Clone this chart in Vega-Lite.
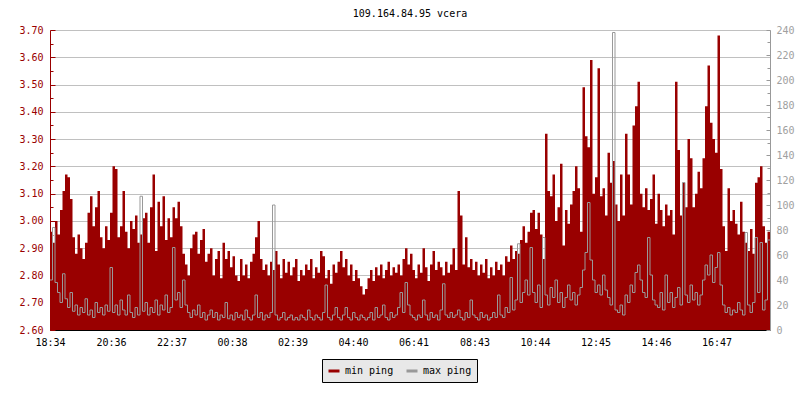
{
  "$schema": "https://vega.github.io/schema/vega-lite/v6.json",
  "width": 720,
  "height": 300,
  "autosize": {"type": "none"},
  "padding": {"left": 50, "top": 30, "right": 30, "bottom": 70},
  "background": "white",
  "title": {"text": "109.164.84.95 vcera", "font": "DejaVu Sans Mono", "fontSize": 10, "fontWeight": "normal", "color": "black", "anchor": "middle", "baseline": "alphabetic", "offset": -2},
  "config": {
    "view": {"stroke": null},
    "axis": {"labelFont": "DejaVu Sans Mono", "labelFontSize": 10, "title": null}
  },
  "data": {"values": [
{"t":0,"mn":2.96,"mx":40},{"t":5,"mn":2.92,"mx":82},{"t":10,"mn":3.00,"mx":38},{"t":15,"mn":2.95,"mx":30},{"t":20,"mn":3.04,"mx":22},{"t":25,"mn":3.11,"mx":45},{"t":30,"mn":3.17,"mx":25},{"t":35,"mn":3.16,"mx":18},{"t":40,"mn":3.08,"mx":30},{"t":45,"mn":2.94,"mx":15},
{"t":50,"mn":2.88,"mx":20},{"t":55,"mn":2.95,"mx":12},{"t":60,"mn":2.90,"mx":18},{"t":65,"mn":2.86,"mx":14},{"t":70,"mn":2.92,"mx":25},{"t":75,"mn":3.03,"mx":12},{"t":80,"mn":3.09,"mx":16},{"t":85,"mn":2.98,"mx":10},{"t":90,"mn":3.05,"mx":22},{"t":95,"mn":3.11,"mx":14},
{"t":100,"mn":2.94,"mx":18},{"t":105,"mn":2.90,"mx":12},{"t":110,"mn":2.98,"mx":20},{"t":115,"mn":2.93,"mx":15},{"t":120,"mn":3.03,"mx":50},{"t":125,"mn":3.20,"mx":14},{"t":130,"mn":3.19,"mx":20},{"t":135,"mn":2.94,"mx":12},{"t":140,"mn":2.98,"mx":24},{"t":145,"mn":3.11,"mx":16},
{"t":150,"mn":2.96,"mx":12},{"t":155,"mn":2.90,"mx":28},{"t":160,"mn":3.00,"mx":14},{"t":165,"mn":2.97,"mx":10},{"t":170,"mn":3.02,"mx":18},{"t":175,"mn":2.92,"mx":12},{"t":180,"mn":2.95,"mx":107},{"t":185,"mn":3.01,"mx":15},{"t":190,"mn":3.03,"mx":22},{"t":195,"mn":2.92,"mx":12},
{"t":200,"mn":3.05,"mx":18},{"t":205,"mn":3.17,"mx":14},{"t":210,"mn":2.89,"mx":24},{"t":215,"mn":3.07,"mx":12},{"t":220,"mn":2.98,"mx":20},{"t":225,"mn":3.09,"mx":16},{"t":230,"mn":2.93,"mx":28},{"t":235,"mn":3.01,"mx":14},{"t":240,"mn":2.94,"mx":18},{"t":245,"mn":3.05,"mx":66},
{"t":250,"mn":3.01,"mx":24},{"t":255,"mn":3.07,"mx":30},{"t":260,"mn":2.98,"mx":18},{"t":265,"mn":2.88,"mx":40},{"t":270,"mn":2.84,"mx":20},{"t":275,"mn":2.80,"mx":14},{"t":280,"mn":2.90,"mx":10},{"t":285,"mn":2.95,"mx":16},{"t":290,"mn":2.96,"mx":12},{"t":295,"mn":2.88,"mx":20},
{"t":300,"mn":2.93,"mx":10},{"t":305,"mn":2.97,"mx":14},{"t":310,"mn":2.85,"mx":8},{"t":315,"mn":2.88,"mx":12},{"t":320,"mn":2.90,"mx":16},{"t":325,"mn":2.80,"mx":10},{"t":330,"mn":2.86,"mx":14},{"t":335,"mn":2.89,"mx":8},{"t":340,"mn":2.79,"mx":12},{"t":345,"mn":2.92,"mx":10},
{"t":350,"mn":2.86,"mx":22},{"t":355,"mn":2.89,"mx":9},{"t":360,"mn":2.83,"mx":12},{"t":365,"mn":2.87,"mx":8},{"t":370,"mn":2.80,"mx":14},{"t":375,"mn":2.78,"mx":10},{"t":380,"mn":2.86,"mx":12},{"t":385,"mn":2.80,"mx":8},{"t":390,"mn":2.84,"mx":16},{"t":395,"mn":2.79,"mx":10},
{"t":400,"mn":2.85,"mx":8},{"t":405,"mn":2.88,"mx":12},{"t":410,"mn":2.94,"mx":28},{"t":415,"mn":3.00,"mx":10},{"t":420,"mn":2.86,"mx":14},{"t":425,"mn":2.82,"mx":8},{"t":430,"mn":2.84,"mx":12},{"t":435,"mn":2.80,"mx":10},{"t":440,"mn":2.85,"mx":14},{"t":445,"mn":2.82,"mx":100},
{"t":450,"mn":2.89,"mx":12},{"t":455,"mn":2.84,"mx":8},{"t":460,"mn":2.79,"mx":10},{"t":465,"mn":2.86,"mx":14},{"t":470,"mn":2.81,"mx":8},{"t":475,"mn":2.85,"mx":10},{"t":480,"mn":2.80,"mx":12},{"t":485,"mn":2.83,"mx":8},{"t":490,"mn":2.86,"mx":10},{"t":495,"mn":2.78,"mx":8},
{"t":500,"mn":2.82,"mx":12},{"t":505,"mn":2.80,"mx":10},{"t":510,"mn":2.84,"mx":8},{"t":515,"mn":2.82,"mx":16},{"t":520,"mn":2.86,"mx":10},{"t":525,"mn":2.79,"mx":8},{"t":530,"mn":2.83,"mx":12},{"t":535,"mn":2.81,"mx":10},{"t":540,"mn":2.89,"mx":8},{"t":545,"mn":2.87,"mx":14},
{"t":550,"mn":2.79,"mx":36},{"t":555,"mn":2.82,"mx":10},{"t":560,"mn":2.77,"mx":8},{"t":565,"mn":2.84,"mx":12},{"t":570,"mn":2.81,"mx":18},{"t":575,"mn":2.85,"mx":10},{"t":580,"mn":2.89,"mx":8},{"t":585,"mn":2.83,"mx":12},{"t":590,"mn":2.86,"mx":18},{"t":595,"mn":2.80,"mx":10},
{"t":600,"mn":2.84,"mx":8},{"t":605,"mn":2.78,"mx":14},{"t":610,"mn":2.82,"mx":10},{"t":615,"mn":2.79,"mx":8},{"t":620,"mn":2.76,"mx":12},{"t":625,"mn":2.73,"mx":10},{"t":630,"mn":2.75,"mx":8},{"t":635,"mn":2.79,"mx":10},{"t":640,"mn":2.82,"mx":14},{"t":645,"mn":2.78,"mx":8},
{"t":650,"mn":2.83,"mx":18},{"t":655,"mn":2.80,"mx":10},{"t":660,"mn":2.84,"mx":12},{"t":665,"mn":2.79,"mx":20},{"t":670,"mn":2.82,"mx":10},{"t":675,"mn":2.85,"mx":8},{"t":680,"mn":2.80,"mx":14},{"t":685,"mn":2.83,"mx":10},{"t":690,"mn":2.81,"mx":12},{"t":695,"mn":2.84,"mx":18},
{"t":700,"mn":2.80,"mx":30},{"t":705,"mn":2.86,"mx":14},{"t":710,"mn":2.90,"mx":38},{"t":715,"mn":2.84,"mx":20},{"t":720,"mn":2.88,"mx":12},{"t":725,"mn":2.82,"mx":10},{"t":730,"mn":2.79,"mx":8},{"t":735,"mn":2.84,"mx":12},{"t":740,"mn":2.81,"mx":10},{"t":745,"mn":2.90,"mx":24},
{"t":750,"mn":2.83,"mx":12},{"t":755,"mn":2.78,"mx":8},{"t":760,"mn":2.84,"mx":14},{"t":765,"mn":2.89,"mx":10},{"t":770,"mn":2.82,"mx":12},{"t":775,"mn":2.85,"mx":8},{"t":780,"mn":2.83,"mx":16},{"t":785,"mn":2.80,"mx":37},{"t":790,"mn":2.85,"mx":12},{"t":795,"mn":2.81,"mx":10},
{"t":800,"mn":2.84,"mx":14},{"t":805,"mn":2.90,"mx":10},{"t":810,"mn":2.82,"mx":12},{"t":815,"mn":3.11,"mx":16},{"t":820,"mn":3.02,"mx":10},{"t":825,"mn":2.84,"mx":8},{"t":830,"mn":2.94,"mx":14},{"t":835,"mn":2.83,"mx":10},{"t":840,"mn":2.86,"mx":24},{"t":845,"mn":2.82,"mx":12},
{"t":850,"mn":2.85,"mx":10},{"t":855,"mn":2.80,"mx":8},{"t":860,"mn":2.84,"mx":14},{"t":865,"mn":2.81,"mx":10},{"t":870,"mn":2.86,"mx":12},{"t":875,"mn":2.79,"mx":8},{"t":880,"mn":2.83,"mx":10},{"t":885,"mn":2.80,"mx":14},{"t":890,"mn":2.85,"mx":10},{"t":895,"mn":2.82,"mx":28},
{"t":900,"mn":2.84,"mx":12},{"t":905,"mn":2.80,"mx":10},{"t":910,"mn":2.87,"mx":18},{"t":915,"mn":2.85,"mx":14},{"t":920,"mn":2.91,"mx":42},{"t":925,"mn":2.86,"mx":16},{"t":930,"mn":2.89,"mx":24},{"t":935,"mn":2.88,"mx":69},{"t":940,"mn":2.93,"mx":22},{"t":945,"mn":2.98,"mx":30},
{"t":950,"mn":2.92,"mx":40},{"t":955,"mn":2.96,"mx":28},{"t":960,"mn":3.03,"mx":66},{"t":965,"mn":3.04,"mx":30},{"t":970,"mn":2.97,"mx":22},{"t":975,"mn":3.03,"mx":36},{"t":980,"mn":2.95,"mx":18},{"t":985,"mn":2.86,"mx":74},{"t":990,"mn":3.32,"mx":28},{"t":995,"mn":3.11,"mx":20},
{"t":1000,"mn":3.09,"mx":34},{"t":1005,"mn":3.17,"mx":26},{"t":1010,"mn":3.00,"mx":40},{"t":1015,"mn":3.05,"mx":22},{"t":1020,"mn":3.21,"mx":30},{"t":1025,"mn":2.91,"mx":18},{"t":1030,"mn":3.04,"mx":26},{"t":1035,"mn":2.99,"mx":36},{"t":1040,"mn":3.06,"mx":24},{"t":1045,"mn":3.11,"mx":30},
{"t":1050,"mn":3.20,"mx":20},{"t":1055,"mn":3.12,"mx":28},{"t":1060,"mn":2.96,"mx":34},{"t":1065,"mn":3.49,"mx":48},{"t":1070,"mn":3.31,"mx":62},{"t":1075,"mn":3.27,"mx":102},{"t":1080,"mn":3.59,"mx":56},{"t":1085,"mn":3.10,"mx":40},{"t":1090,"mn":3.16,"mx":30},{"t":1095,"mn":3.56,"mx":36},
{"t":1100,"mn":3.09,"mx":28},{"t":1105,"mn":3.12,"mx":44},{"t":1110,"mn":3.02,"mx":32},{"t":1115,"mn":3.25,"mx":26},{"t":1120,"mn":3.14,"mx":20},{"t":1125,"mn":3.22,"mx":238},{"t":1130,"mn":3.06,"mx":16},{"t":1135,"mn":3.00,"mx":14},{"t":1140,"mn":3.17,"mx":20},{"t":1145,"mn":3.02,"mx":12},
{"t":1150,"mn":3.32,"mx":28},{"t":1155,"mn":3.17,"mx":22},{"t":1160,"mn":3.06,"mx":36},{"t":1165,"mn":3.35,"mx":30},{"t":1170,"mn":3.42,"mx":46},{"t":1175,"mn":3.51,"mx":52},{"t":1180,"mn":3.10,"mx":40},{"t":1185,"mn":3.05,"mx":30},{"t":1190,"mn":3.12,"mx":26},{"t":1195,"mn":3.04,"mx":74},
{"t":1200,"mn":3.08,"mx":44},{"t":1205,"mn":3.17,"mx":24},{"t":1210,"mn":2.99,"mx":20},{"t":1215,"mn":3.10,"mx":18},{"t":1220,"mn":3.04,"mx":30},{"t":1225,"mn":2.98,"mx":16},{"t":1230,"mn":3.06,"mx":44},{"t":1235,"mn":3.02,"mx":22},{"t":1240,"mn":3.04,"mx":30},{"t":1245,"mn":2.95,"mx":18},
{"t":1250,"mn":3.51,"mx":26},{"t":1255,"mn":3.26,"mx":34},{"t":1260,"mn":3.02,"mx":20},{"t":1265,"mn":3.14,"mx":118},{"t":1270,"mn":3.05,"mx":28},{"t":1275,"mn":3.30,"mx":22},{"t":1280,"mn":3.23,"mx":36},{"t":1285,"mn":3.05,"mx":24},{"t":1290,"mn":3.10,"mx":30},{"t":1295,"mn":3.18,"mx":20},
{"t":1300,"mn":3.12,"mx":28},{"t":1305,"mn":3.23,"mx":40},{"t":1310,"mn":3.42,"mx":52},{"t":1315,"mn":3.57,"mx":44},{"t":1320,"mn":3.36,"mx":60},{"t":1325,"mn":3.30,"mx":38},{"t":1330,"mn":3.25,"mx":50},{"t":1335,"mn":3.68,"mx":62},{"t":1340,"mn":3.19,"mx":36},{"t":1345,"mn":2.98,"mx":20},
{"t":1350,"mn":2.89,"mx":14},{"t":1355,"mn":3.12,"mx":18},{"t":1360,"mn":3.00,"mx":12},{"t":1365,"mn":3.04,"mx":16},{"t":1370,"mn":2.99,"mx":14},{"t":1375,"mn":2.95,"mx":22},{"t":1380,"mn":3.07,"mx":16},{"t":1385,"mn":2.96,"mx":12},{"t":1390,"mn":2.92,"mx":78},{"t":1395,"mn":2.89,"mx":20},
{"t":1400,"mn":2.97,"mx":14},{"t":1405,"mn":2.88,"mx":22},{"t":1410,"mn":3.14,"mx":74},{"t":1415,"mn":3.16,"mx":30},{"t":1420,"mn":3.20,"mx":70},{"t":1425,"mn":2.98,"mx":16},{"t":1430,"mn":2.92,"mx":24},{"t":1435,"mn":2.96,"mx":72},{"t":1440,"mn":2.96,"mx":72}
  ]},
  "encoding": {
    "x": {
      "field": "t", "type": "quantitative",
      "scale": {"domain": [0, 1440], "nice": false, "zero": false},
      "axis": {
        "values": [0,122,243,364,485,606,727,849,970,1091,1212,1333],
        "labelExpr": "['18:34','20:36','22:37','00:38','02:39','04:40','06:41','08:43','10:44','12:45','14:46','16:47'][indexof([0,122,243,364,485,606,727,849,970,1091,1212,1333], datum.value)]",
        "grid": false, "domainColor": "black", "tickColor": "black", "tickSize": -5, "labelPadding": 12, "labelColor": "black", "labelFlush": false, "labelOverlap": false
      }
    }
  },
  "layer": [
    {
      "mark": {"type": "area", "interpolate": "step-after", "clip": true},
      "encoding": {
        "y": {
          "field": "mn", "type": "quantitative",
          "scale": {"domain": [2.6, 3.7], "nice": false, "zero": false},
          "axis": {
            "orient": "left",
            "values": [2.6,2.65,2.7,2.75,2.8,2.85,2.9,2.95,3.0,3.05,3.1,3.15,3.2,3.25,3.3,3.35,3.4,3.45,3.5,3.55,3.6,3.65,3.7],
            "labelExpr": "round(datum.value*100) % 10 == 0 ? format(datum.value, '.2f') : ''",
            "grid": true, "gridColor": "#c0c0c0",
            "gridOpacity": {"condition": {"test": "round(datum.value*100) % 10 != 0", "value": 0}, "value": 1},
            "tickSize": {"condition": {"test": "round(datum.value*100) % 10 != 0", "value": -3}, "value": -5},
            "domainColor": "#990000", "tickColor": "#990000", "labelColor": "#990000", "labelPadding": 12, "labelOverlap": false, "labelFlush": false
          }
        },
        "color": {
          "datum": "min ping", "type": "nominal",
          "scale": {"domain": ["min ping", "max ping"], "range": ["#990000", "#999999"]},
          "legend": {
            "title": null, "orient": "none", "legendX": 272, "legendY": 329, "direction": "horizontal",
            "fillColor": "#e8e8e8", "strokeColor": "black", "padding": 5,
            "symbolType": "stroke", "symbolSize": 121, "symbolStrokeWidth": 3,
            "labelFont": "DejaVu Sans Mono", "labelFontSize": 10, "labelColor": "black", "labelOffset": 4, "columnPadding": 6
          }
        }
      }
    },
    {
      "mark": {"type": "line", "interpolate": "step-after", "strokeWidth": 1, "clip": true},
      "encoding": {
        "y": {
          "field": "mx", "type": "quantitative",
          "scale": {"domain": [0, 240], "nice": false},
          "axis": {
            "orient": "right",
            "values": [0,10,20,30,40,50,60,70,80,90,100,110,120,130,140,150,160,170,180,190,200,210,220,230,240],
            "labelExpr": "datum.value % 20 == 0 ? datum.value : ''",
            "grid": false,
            "tickSize": {"condition": {"test": "datum.value % 20 != 0", "value": -3}, "value": -4},
            "domainColor": "#999999", "tickColor": "#999999", "labelColor": "#a0a0a0", "labelPadding": 10, "labelOverlap": false, "labelFlush": false
          }
        },
        "color": {"datum": "max ping", "type": "nominal"}
      }
    }
  ],
  "resolve": {"scale": {"y": "independent"}}
}
